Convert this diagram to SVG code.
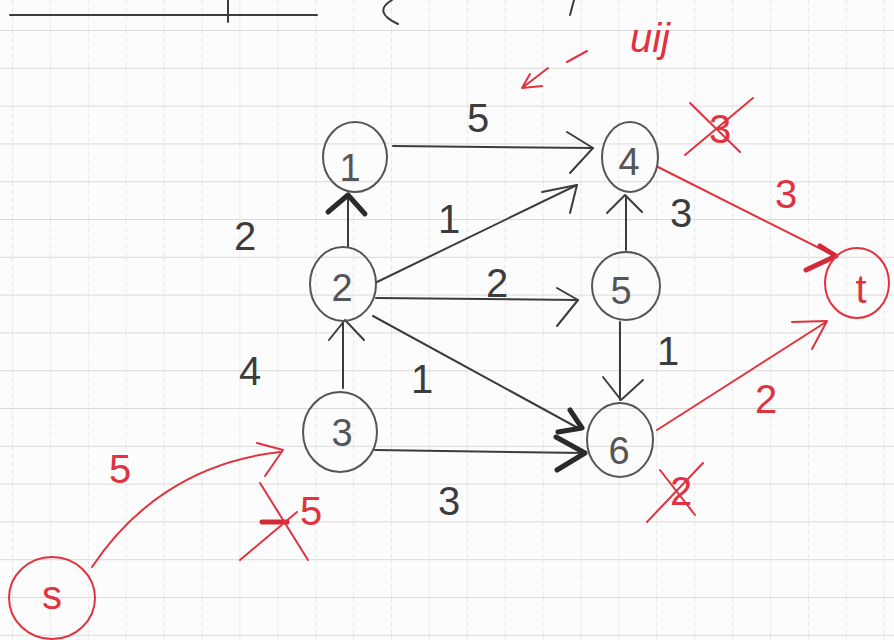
<svg xmlns="http://www.w3.org/2000/svg" width="894" height="640" viewBox="0 0 894 640">
<defs>
<pattern id="gridp" x="12" y="30" width="37.9" height="37.8" patternUnits="userSpaceOnUse">
<path d="M0,0 H37.9" stroke="#cfcfcf" stroke-width="1.3" fill="none"/>
<path d="M0,0 V37.8" stroke="#d6d6d6" stroke-width="1.1" stroke-dasharray="5,3" fill="none"/>
</pattern>
<style>
.k{stroke:#3c3c3c;stroke-width:2;fill:none;stroke-linecap:round;stroke-linejoin:round}
.kb{stroke:#2a2a2a;stroke-width:5;fill:none;stroke-linecap:round;stroke-linejoin:round}
.r{stroke:#e0323f;stroke-width:2;fill:none;stroke-linecap:round;stroke-linejoin:round}
.rb{stroke:#d42a38;stroke-width:5;fill:none;stroke-linecap:round;stroke-linejoin:round}
.nd{stroke:#555;stroke-width:2;fill:none}
.nr{stroke:#e0323f;stroke-width:2;fill:none}
.t{font-family:"Liberation Sans","DejaVu Sans",sans-serif;font-size:40px;text-anchor:middle;fill:#3c3c3c}
.tn{font-family:"Liberation Sans","DejaVu Sans",sans-serif;font-size:38px;text-anchor:middle;fill:#555}
.tr{font-family:"Liberation Sans","DejaVu Sans",sans-serif;font-size:40px;text-anchor:middle;fill:#e0323f}
</style>
</defs>
<rect width="894" height="640" fill="#fcfcfc"/>
<rect width="894" height="640" fill="url(#gridp)"/>

<g id="header">
<path class="k" d="M10,15 H317 M228,0 V22"/>
<path class="k" stroke-width="2.5" d="M392,0 Q372,12 398,24"/>
<path class="k" stroke-width="2.5" d="M574,0 L570,15"/>
</g>

<g id="note">
<text class="tr" x="650" y="52" font-size="34" font-style="italic">uij</text>
<path class="r" d="M587,51 L567,62" />
<path class="r" d="M548,68 L522,88 M530,74 L522,88 L542,86"/>
</g>

<g id="connectors">
<!-- 1 -> 4 -->
<path class="k" d="M393,146 L593,148"/>
<path class="k" d="M567,132 L593,148 L570,173"/>
<!-- 2 -> 1 -->
<path class="k" d="M348,247 L348,197"/>
<path class="kb" d="M328,212 L348,195 L365,214"/>
<!-- 2 -> 4 -->
<path class="k" d="M377,282 L577,185"/>
<path class="k" d="M542,192 L577,185 L570,213"/>
<!-- 2 -> 5 -->
<path class="k" d="M376,298 L578,300"/>
<path class="k" d="M557,288 L578,300 L557,326"/>
<!-- 5 -> 4 -->
<path class="k" d="M626,250 L626,196"/>
<path class="k" d="M607,213 L625,195 L642,212"/>
<!-- 5 -> 6 -->
<path class="k" d="M620,322 L620,400"/>
<path class="k" d="M603,377 L621,400 L643,380"/>
<!-- 2 -> 6 -->
<path class="k" d="M373,316 L578,428"/>
<path class="kb" d="M570,410 L582,428 L558,432"/>
<!-- 3 -> 2 -->
<path class="k" d="M343,388 L343,323"/>
<path class="k" d="M329,340 L345,320 L364,340"/>
<!-- 3 -> 6 -->
<path class="k" d="M375,450 L585,453"/>
<path class="kb" d="M556,437 L585,453 L557,470"/>
<!-- 4 -> t -->
<path class="r" d="M658,167 L835,256"/>
<path class="rb" d="M820,246 L836,256 L806,270"/>
<!-- 6 -> t -->
<path class="r" d="M657,430 L826,322"/>
<path class="r" d="M792,322 L827,321 L812,349"/>
<!-- s -> 3 -->
<path class="r" d="M92,567 C130,510 190,462 280,452"/>
<path class="r" d="M257,443 L283,450 L265,476"/>
</g>

<g id="n1"><ellipse class="nd" cx="355" cy="157" rx="32" ry="35"/><text class="tn" x="350" y="181">1</text></g>
<g id="n4"><ellipse class="nd" cx="630" cy="157" rx="28" ry="35"/><text class="tn" x="629" y="175">4</text></g>
<g id="n2"><ellipse class="nd" cx="343" cy="284" rx="33" ry="37"/><text class="tn" x="342" y="301">2</text></g>
<g id="n5"><ellipse class="nd" cx="626" cy="286" rx="34" ry="34"/><text class="tn" x="621" y="304">5</text></g>
<g id="n3"><ellipse class="nd" cx="340" cy="432" rx="37" ry="40"/><text class="tn" x="342" y="446">3</text></g>
<g id="n6"><ellipse class="nd" cx="620" cy="440" rx="33" ry="37"/><text class="tn" x="619" y="464">6</text></g>
<g id="ns"><ellipse class="nr" cx="52" cy="598" rx="43" ry="41"/><text class="tr" x="52" y="609" font-size="32">s</text></g>
<g id="nt"><ellipse class="nr" cx="857" cy="283" rx="32" ry="35"/><text class="tr" x="861" y="303" font-size="34">t</text></g>

<g id="labels">
<text class="t" x="478" y="132">5</text>
<text class="t" x="245" y="250">2</text>
<text class="t" x="449" y="233">1</text>
<text class="t" x="497" y="297">2</text>
<text class="t" x="681" y="227">3</text>
<text class="t" x="668" y="365">1</text>
<text class="t" x="422" y="393">1</text>
<text class="t" x="449" y="515">3</text>
<text class="t" x="250" y="385">4</text>
<text class="tr" x="120" y="483">5</text>
<text class="tr" x="786" y="208">3</text>
<text class="tr" x="766" y="413">2</text>
<text class="tr" x="720" y="143">3</text>
<path class="r" d="M690,103 L740,152 M753,98 L685,155"/>
<text class="tr" x="681" y="505">2</text>
<path class="r" d="M647,522 L703,463 M660,470 L695,515"/>
<text class="tr" x="311" y="525">5</text>
<path class="rb" d="M262,522 L287,522" stroke-width="3"/>
<path class="r" d="M260,483 L308,560"/>
<path class="r" d="M240,560 L297,512" stroke-width="1"/>
</g>
</svg>
